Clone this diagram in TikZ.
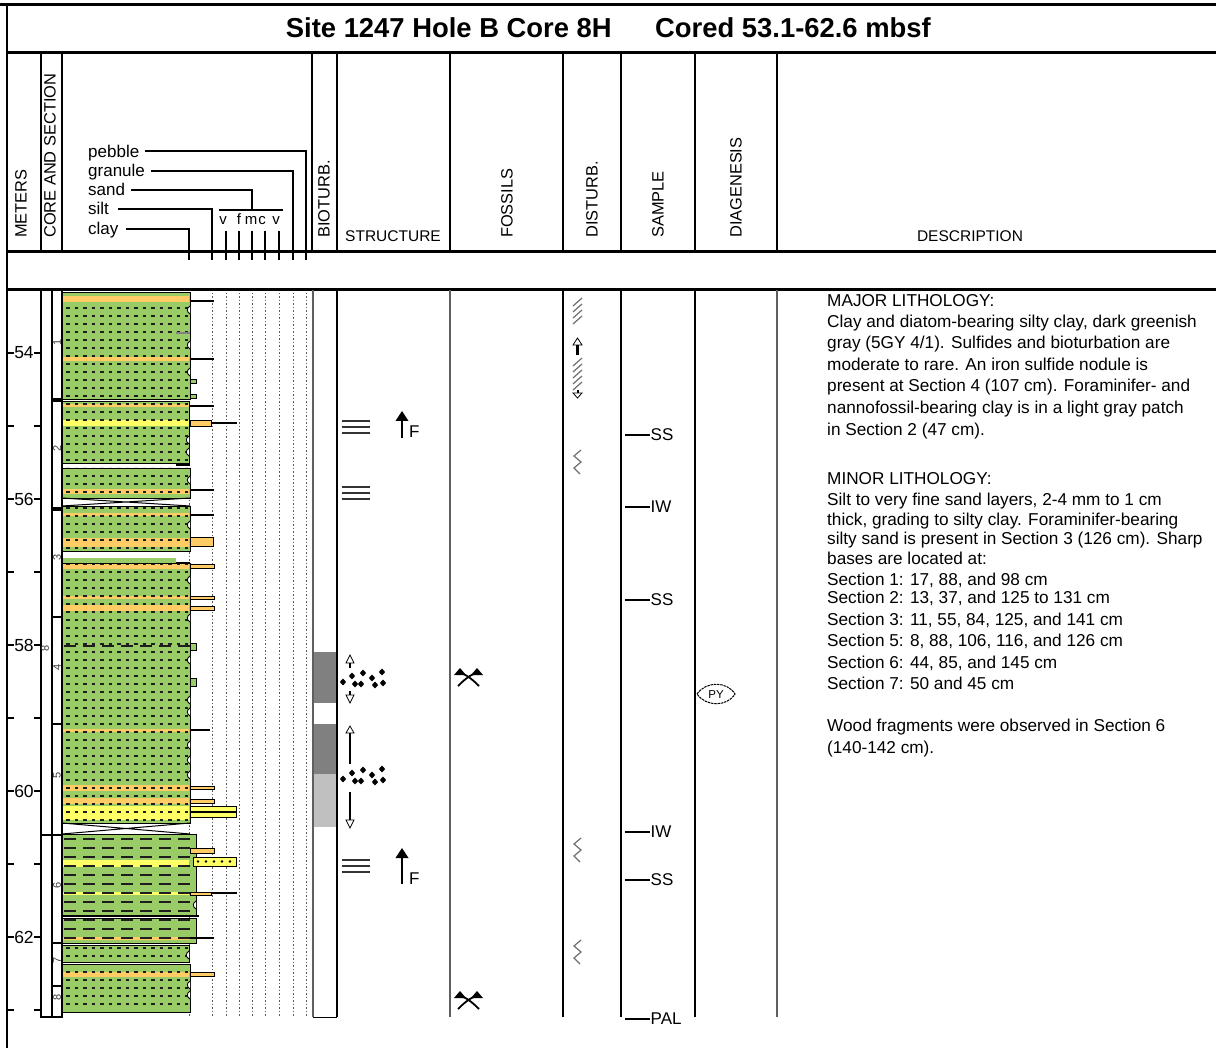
\documentclass[tikz,border=0pt]{standalone}
\usepackage{fontspec}
\setmainfont{Liberation Sans}
\definecolor{litgreen}{RGB}{153,204,102}
\definecolor{litorange}{RGB}{255,204,102}
\definecolor{lityellow}{RGB}{255,255,102}
\definecolor{biodark}{RGB}{128,128,128}
\definecolor{biolight}{RGB}{192,192,192}
\definecolor{dashgray}{RGB}{30,30,30}
\definecolor{linegray}{RGB}{95,95,95}
\definecolor{symgray}{RGB}{110,110,110}
\newcommand{\fsz}[1]{\fontsize{#1}{#1}\selectfont}
\tikzset{
  heavy/.style={line width=3pt},
  colline/.style={line width=2pt},
  datacol/.style={line width=1.5pt, black},
  graycol/.style={line width=2pt, linegray},
  hdrv/.style={font=\fsz{16.4}, rotate=90, anchor=west, inner sep=0pt},
  hdrh/.style={font=\fsz{15.5}, anchor=base, inner sep=0pt},
  legtxt/.style={font=\fsz{17}, anchor=base west, inner sep=0pt},
  gstxt/.style={font=\fsz{15}, anchor=base, inner sep=0pt},
  desc/.style={font=\fsz{17.2}, anchor=base west, inner sep=0pt},
  deplbl/.style={font=\fsz{17.5}, anchor=center, inner sep=0pt},
  smp/.style={font=\fsz{17}, anchor=west, inner sep=0.5pt},
  secnum/.style={font=\fsz{11}, rotate=90, inner sep=0pt, text=black!75},
  gsline/.style={line width=1pt, black!65, dash pattern=on 1.5pt off 2pt},
  legline/.style={line width=2pt},
  rowdash/.style={line width=2pt, dashgray, dash pattern=on 3.5pt off 5pt},
  longdash/.style={line width=1.8pt, dashgray, dash pattern=on 12pt off 7pt},
  blockedge/.style={line width=0.9pt, black},
  sandbar/.style={draw=black, line width=0.8pt, fill=litorange},
  ysandbar/.style={draw=black, line width=0.8pt, fill=lityellow},
  contact/.style={line width=1.2pt, black},
  distsym/.style={line width=1.2pt, symgray},
  lamline/.style={line width=2pt, black!80},
  openhead/.style={line width=0.8pt, fill=white, draw=black},
  woodpic/.pic={
    \draw[line width=1.8pt] (-8,-5) .. controls (-2,-4) and (5,2) .. (11,8);
    \draw[line width=1.8pt] (9,-5) .. controls (3,-4) and (-4,2) .. (-10,8);
    \fill (-14,-3) -- (-8,-10) -- (-2,-3) -- cycle;
    \fill (3,-3) -- (9,-10) -- (15,-3) -- cycle;
  },
  clusterpic/.pic={
    \foreach \px/\py in {-7/2,2/-4,5/4,13/-7,11/4,22/-2,25/5,32/-8,33/3}
      \fill (\px-3.2,\py) -- (\px,\py-3.4) -- (\px+3.2,\py) -- (\px,\py+3.4) -- cycle;
  },
}
\begin{document}
\begin{tikzpicture}[x=1pt,y=-1pt]
\useasboundingbox (0,0) rectangle (1216,1048);
\fill[white] (0,0) rectangle (1216,1048);

% ---------- frame ----------
\draw[heavy] (0,5) -- (1216,5);
\draw[line width=2.5pt] (7,4) -- (7,1048);
\draw[heavy] (7,53) -- (1216,53);
\draw[heavy] (7,252) -- (1216,252);
\draw[heavy] (7,290) -- (1216,290);

% ---------- title ----------
\node[font=\bfseries\fsz{27.4}, anchor=base east, inner sep=0pt] (title1) at (612,38) {Site 1247 Hole B Core 8H};
\node[font=\bfseries\fsz{27.4}, anchor=base west, inner sep=0pt] (title2) at (655,38) {Cored 53.1-62.6 mbsf};

% ---------- header columns ----------
\foreach \x in {41,62,312,337,450,563,621,695,777}
  \draw[colline] (\x,53) -- (\x,252);
\node[hdrv] (hm) at (21,238) {METERS};
\node[hdrv] (hc) at (50,238) {CORE AND SECTION};
\node[hdrv] (hb) at (324,238) {BIOTURB.};
\node[hdrh] (hs) at (393,242) {STRUCTURE};
\node[hdrv] (hf) at (507,238) {FOSSILS};
\node[hdrv] (hd) at (592,238) {DISTURB.};
\node[hdrv] (hsa) at (658,238) {SAMPLE};
\node[hdrv] (hdi) at (736,238) {DIAGENESIS};
\node[hdrh] (hde) at (970,242) {DESCRIPTION};

% ---------- grain-size legend ----------
\node[legtxt] (lpeb) at (88,158) {pebble};
\node[legtxt] (lgra) at (88,177) {granule};
\node[legtxt] (lsan) at (88,196) {sand};
\node[legtxt] (lsil) at (88,215) {silt};
\node[legtxt] (lcla) at (88,235) {clay};
\draw[legline] (145,151) -- (306,151) -- (306,260);
\draw[legline] (151,171) -- (293,171) -- (293,260);
\draw[legline] (131,190) -- (252,190) -- (252,210);
\draw[legline] (219,210) -- (283,210);
\draw[legline] (118,209) -- (212,209) -- (212,260);
\draw[legline] (126,229) -- (189,229) -- (189,260);
\foreach \x in {226,239,252,265,279}
  \draw[legline] (\x,231) -- (\x,260);
\node[gstxt] (gv1) at (223,225) {v};
\node[gstxt] (gf) at (239,225) {f};
\node[gstxt] (gm) at (251,225) {m};
\node[gstxt] (gc) at (262,225) {c};
\node[gstxt] (gv2) at (276,225) {v};

% ---------- grain-size grid in data area ----------
\foreach \x in {189,212,226,239,252,265,279,293,306}
  \draw[gsline] (\x,293) -- (\x,1017);

% ---------- lithology column ----------
\foreach \t/\b/\r in {292/399/190, 401/463/189, 468/498/190, 506/551/190, 563/823/190, 834/916/196, 918/943/196, 945/962/189, 964/1012/190}
  \fill[litgreen] (62,\t) rectangle (\r,\b);
\fill[litgreen] (62,558) rectangle (176,563);
% coloured beds
\foreach \t/\b in {296/302, 357/361, 404/407, 489/494, 513/516, 538/547, 563/569, 596/599, 605/611, 729/732, 785/791, 798/804, 937/940, 972/977}
  \fill[litorange] (62,\t) rectangle (189,\b);
\foreach \t/\b in {420/426, 806/820, 860/867, 892/895}
  \fill[lityellow] (62,\t) rectangle (189,\b);
% dash pattern rows
\begin{scope}
  \clip (62,292) rectangle (190,399) (62,401) rectangle (189,463)
        (62,468) rectangle (190,498) (62,506) rectangle (190,551)
        (62,563) rectangle (190,823) (62,945) rectangle (189,962)
        (62,964) rectangle (190,1012);
  \foreach \y in {308,316,...,1010}
    \draw[rowdash] (66,\y) -- (188,\y);
\end{scope}
\begin{scope}
  \clip (62,834) rectangle (196,916) (62,918) rectangle (196,943);
  \foreach \y in {839,848,...,942}
    \draw[longdash] (64,\y) -- (194,\y);
\end{scope}
\draw[longdash, line width=2.2pt] (64,646) -- (194,646);
% block outlines
\foreach \t/\b/\r in {292/399/190, 401/463/189, 468/498/190, 506/551/190, 563/823/190, 834/916/196, 918/943/196, 945/962/189, 964/1012/190}
  \draw[blockedge] (62,\t) -- (\r,\t) -- (\r,\b) -- (62,\b);
% scalloped (gradational) edges
\foreach \y/\r in {310/190, 345/190, 372/190, 440/189, 452/189, 480/190, 525/190, 580/190, 618/190, 660/190, 700/190, 712/190, 745/190, 760/190, 775/190, 905/196, 955/189, 985/190, 995/190}
  \draw[blockedge, fill=white] (\r,\y-4) .. controls (\r-3.5,\y-2) and (\r-3.5,\y+2) .. (\r,\y+4);
\draw[line width=2.5pt] (62,916) -- (199,916);
% voids
\draw[line width=1pt] (62,498) -- (190,506) (62,506) -- (190,498);
\draw[line width=1pt] (62,823) -- (190,834) (62,834) -- (190,823);
% coarse-bed bars to the right
\draw[sandbar] (190,420) rectangle (211,426);
\draw[contact] (211,423) -- (237,423);
\draw[sandbar] (190,537) rectangle (213,546);
\foreach \t/\b in {564/568, 596/599, 606/610, 786/789, 799/803, 848/853, 972/976}
  \draw[sandbar] (190,\t) rectangle (214,\b);
\draw[ysandbar] (190,806) rectangle (236,811);
\draw[ysandbar] (190,812) rectangle (236,817);
\draw[ysandbar] (193,857) rectangle (236,866);
\foreach \x in {198,206,214,222,230} \fill (\x,861.5) circle (1.4pt);
\draw[sandbar] (190,892) rectangle (211,895);
\draw[contact] (211,893) -- (237,893);
\foreach \y/\xe in {301/214, 359/214, 406/214, 490/214, 515/214, 730/210, 938/214}
  \draw[contact] (190,\y) -- (\xe,\y);
\foreach \y in {465, 563}
  \draw[contact] (176,\y) -- (190,\y);
\draw[line width=1.5pt, gray] (176,333) -- (190,333);
\foreach \t/\b in {379/383, 394/398, 643/650, 678/686}
  \draw[blockedge, fill=litgreen] (190,\t) rectangle (196,\b);

% ---------- core & section columns ----------
\draw[line width=2.5pt] (41,290) -- (41,1018);
\draw[line width=1.2pt] (52,290) -- (52,1017);
\draw[line width=1.5pt] (62,290) -- (62,1017);
\draw[line width=2.5pt] (40,1017) -- (63,1017);
\foreach \y in {399,401,617,724,943,986}
  \draw[line width=1.2pt] (52,\y) -- (62,\y);
\fill (52,507) rectangle (62,511);
\draw[line width=2.5pt] (41,835) -- (62,835);
\foreach \n/\y in {1/342, 2/448, 3/557, 4/667, 5/775, 6/885, 7/960, 8/997}
  \node[secnum] (sec\n) at (57,\y) {\n};
\node[secnum] (core8) at (45,648) {8};

% ---------- depth scale ----------
\foreach \d in {54,...,63}{
  \draw[line width=2pt] (7,{353+(\d-54)*73}) -- (14,{353+(\d-54)*73});
  \draw[line width=2pt] (34,{353+(\d-54)*73}) -- (41,{353+(\d-54)*73});
}
\foreach \d in {54,56,58,60,62}
  \node[deplbl] (dep\d) at (24,{353+(\d-54)*73}) {\d};

% ---------- bioturbation ----------
\fill[biodark] (313,652) rectangle (337,703);
\fill[biodark] (313,724) rectangle (337,774);
\fill[biolight] (313,774) rectangle (337,827);
\draw[graycol] (313,290) -- (313,1017);
\draw[datacol, line width=2pt] (337,290) -- (337,1017);
\draw[line width=1pt] (313,1017) -- (337,1017);

% ---------- other data columns ----------
\draw[graycol] (450,290) -- (450,1017);
\draw[datacol] (563,290) -- (563,1017);
\draw[datacol] (621,290) -- (621,1017);
\draw[datacol] (695,290) -- (695,1017);
\draw[graycol] (777,290) -- (777,1017);

% ---------- structures ----------
\foreach \yc in {427, 493, 866}
  \foreach \dy in {-6,0,6}
    \draw[lamline] (342,\yc+\dy) -- (370,\yc+\dy);
\foreach \yt/\yb in {411/438, 848/884}{
  \draw[line width=2.6pt] (402,\yb) -- (402,\yt+9);
  \fill (395.5,\yt+10) -- (402,\yt) -- (408.5,\yt+10) -- cycle;
  \node[font=\fsz{17}, anchor=base west, inner sep=0pt] at (409,\yb) {F};
}
% extent arrows with nodules
\draw[openhead] (346,663) -- (350,655) -- (354,663) -- cycle;
\draw[line width=2pt] (350,663) -- (350,668);
\pic at (350,680) {clusterpic};
\draw[line width=2pt] (350,691) -- (350,695);
\draw[openhead] (346,695) -- (354,695) -- (350,703) -- cycle;
\draw[openhead] (346,733) -- (350,726) -- (354,733) -- cycle;
\draw[line width=2pt] (350,733) -- (350,764);
\pic at (350,777) {clusterpic};
\draw[line width=2pt] (350,792) -- (350,820);
\draw[openhead] (346,820) -- (354,820) -- (350,828) -- cycle;

% ---------- fossils ----------
\pic at (468,678) {woodpic};
\pic at (468,1001) {woodpic};

% ---------- disturbance ----------
\foreach \y in {302,308,314,320}
  \draw[distsym] (573,\y+4) -- (582,\y-4);
\draw[openhead] (573,345) -- (577.5,338) -- (582,345) -- cycle;
\draw[line width=2.4pt] (577.5,345) -- (577.5,355);
\foreach \y in {362,368,374,380,386}
  \draw[distsym] (573,\y+4) -- (582,\y-4);
\draw[line width=2pt] (577.5,390) -- (577.5,393);
\draw[openhead] (573,393) -- (582,393) -- (577.5,398) -- cycle;
\foreach \y in {450, 838, 940}
  \draw[distsym] (581,\y) -- (574,\y+6) -- (581,\y+12) -- (574,\y+18) -- (580,\y+24);

% ---------- samples ----------
\foreach \y/\lab/\nm in {435/SS/s1, 507/IW/s2, 600/SS/s3, 832/IW/s4, 880/SS/s5, 1019/PAL/s6}{
  \draw[line width=1.8pt] (625,\y) -- (650,\y);
  \node[smp] (\nm) at (650,\y) {\lab};
}

% ---------- diagenesis ----------
\draw[line width=1pt, dash pattern=on 2.5pt off 0.8pt] (697,694) .. controls (706,681) and (727,681) .. (735,694) .. controls (727,707) and (706,707) .. (697,694);
\node[font=\fsz{11.5}, inner sep=0pt] (py) at (716,694.5) {PY};

% ---------- description ----------
\node[desc] (d1) at (827,307) {MAJOR LITHOLOGY:};
\node[desc] (d2) at (827,328) {Clay and diatom-bearing silty clay, dark greenish};
\node[desc] (d3) at (827,349) {gray (5GY 4/1). Sulfides and bioturbation are};
\node[desc] (d4) at (827,371) {moderate to rare. An iron sulfide nodule is};
\node[desc] (d5) at (827,392) {present at Section 4 (107 cm). Foraminifer- and};
\node[desc] (d6) at (827,414) {nannofossil-bearing clay is in a light gray patch};
\node[desc] (d7) at (827,436) {in Section 2 (47 cm).};
\node[desc] (d8) at (827,484) {MINOR LITHOLOGY:};
\node[desc] (d9) at (827,505) {Silt to very fine sand layers, 2-4 mm to 1 cm};
\node[desc] (d10) at (827,525) {thick, grading to silty clay. Foraminifer-bearing};
\node[desc] (d11) at (827,544) {silty sand is present in Section 3 (126 cm). Sharp};
\node[desc] (d12) at (827,564) {bases are located at:};
\node[desc] (d13) at (827,585) {Section 1: 17, 88, and 98 cm};
\node[desc] (d14) at (827,603) {Section 2: 13, 37, and 125 to 131 cm};
\node[desc] (d15) at (827,625) {Section 3: 11, 55, 84, 125, and 141 cm};
\node[desc] (d16) at (827,646) {Section 5: 8, 88, 106, 116, and 126 cm};
\node[desc] (d17) at (827,668) {Section 6: 44, 85, and 145 cm};
\node[desc] (d18) at (827,689) {Section 7: 50 and 45 cm};
\node[desc] (d19) at (827,731) {Wood fragments were observed in Section 6};
\node[desc] (d20) at (827,753) {(140-142 cm).};
\end{tikzpicture}
\end{document}
